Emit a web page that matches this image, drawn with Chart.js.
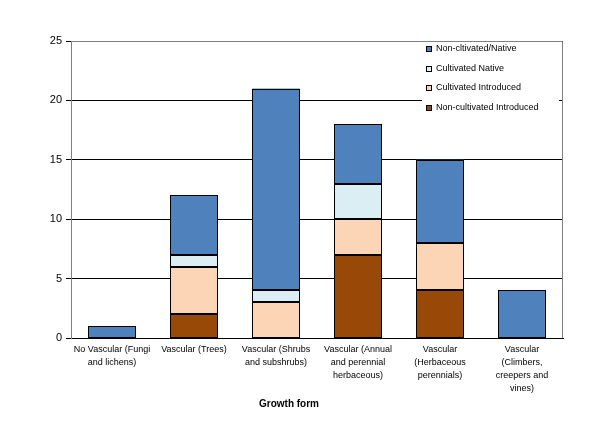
<!DOCTYPE html>
<html>
<head>
<meta charset="utf-8">
<script src="https://cdn.jsdelivr.net/npm/chart.js@4/dist/chart.umd.min.js"></script>
<style>
  html, body { margin: 0; padding: 0; background: #fff; }
  #wrap { width: 598px; height: 428px; }
</style>
</head>
<body>
<div id="wrap"><canvas id="chart" width="598" height="428"></canvas></div>
<script>
const categories = [
  ["No Vascular (Fungi", "and lichens)"],
  ["Vascular (Trees)"],
  ["Vascular (Shrubs", "and subshrubs)"],
  ["Vascular (Annual", "and perennial", "herbaceous)"],
  ["Vascular", "(Herbaceous", "perennials)"],
  ["Vascular", "(Climbers,", "creepers and", "vines)"],
];

const nonCultIntroduced = [0, 2, 0, 7, 4, 0];
const cultIntroduced = [0, 4, 3, 3, 4, 0];
const cultNative = [0, 1, 1, 3, 0, 0];
const nonCultNative = [1, 5, 17, 5, 7, 4];

const yTicks = [0, 5, 10, 15, 20, 25];
const xTitle = "Growth form";

const FONT = "'Liberation Sans', Arial, sans-serif";

// plot frame, crisp bar outlines, in-plot legend and axis title
const framePlugin = {
  id: "frame",
  beforeDatasetsDraw(chart) {
    const { ctx, chartArea: a } = chart;
    ctx.save();
    // legend box background hides the gridline behind it
    ctx.fillStyle = "#fff";
    ctx.fillRect(422, 38, a.right - 424, 78);
    ctx.restore();
  },
  afterDatasetsDraw(chart) {
    const { ctx, chartArea: a } = chart;
    ctx.save();

    // outline every non-empty segment
    ctx.strokeStyle = "#000";
    ctx.lineWidth = 1;
    chart.data.datasets.forEach((ds, di) => {
      chart.getDatasetMeta(di).data.forEach((bar, i) => {
        if (!ds.data[i]) return;
        const p = bar.getProps(["x", "y", "base", "width"], true);
        const x0 = Math.round(p.x - p.width / 2) + 0.5;
        const x1 = Math.round(p.x + p.width / 2) - 0.5;
        const y0 = Math.round(p.y) + 0.5;
        const y1 = Math.round(p.base) - 0.5;
        ctx.strokeRect(x0, y0, x1 - x0, y1 - y0);
      });
    });

    ctx.strokeStyle = "#808080";
    ctx.beginPath();
    ctx.moveTo(a.left + 0.5, a.bottom);
    ctx.lineTo(a.left + 0.5, a.top + 0.5);
    ctx.lineTo(a.right - 0.5, a.top + 0.5);
    ctx.lineTo(a.right - 0.5, a.bottom);
    ctx.stroke();
    // small stub of the 20 gridline at the right edge
    const y20 = Math.round(chart.scales.y.getPixelForValue(20)) + 0.5;
    ctx.strokeStyle = "#000";
    ctx.beginPath();
    ctx.moveTo(a.right - 4, y20);
    ctx.lineTo(a.right - 1, y20);
    ctx.stroke();

    // legend, top item is the top stack segment
    const items = chart.data.datasets.slice().reverse();
    ctx.font = "9px " + FONT;
    ctx.textBaseline = "middle";
    items.forEach((ds, i) => {
      const y = Math.round(49 + i * 19.5);
      ctx.fillStyle = ds.backgroundColor;
      ctx.fillRect(426, y - 3, 6, 6);
      ctx.strokeStyle = "#000";
      ctx.strokeRect(426.5, y - 2.5, 5, 5);
      ctx.fillStyle = "#000";
      ctx.fillText(ds.label, 436, y);
    });

    ctx.font = "bold 10px " + FONT;
    ctx.textAlign = "center";
    ctx.fillText(xTitle, 289, 404);
    ctx.restore();
  },
};

new Chart(document.getElementById("chart"), {
  type: "bar",
  data: {
    labels: categories,
    datasets: [
      { label: "Non-cultivated Introduced", data: nonCultIntroduced, backgroundColor: "#984807" },
      { label: "Cultivated Introduced", data: cultIntroduced, backgroundColor: "#FBD5B5" },
      { label: "Cultivated Native", data: cultNative, backgroundColor: "#DAEEF3" },
      { label: "Non-cltivated/Native", data: nonCultNative, backgroundColor: "#4F81BD" },
    ].map((ds) => ({
      ...ds,
      borderWidth: 0,
      categoryPercentage: 1,
      barPercentage: 0.58,
    })),
  },
  options: {
    responsive: false,
    animation: false,
    layout: { padding: { left: 0, right: 35, top: 41, bottom: 0 } },
    plugins: {
      legend: { display: false },
      tooltip: { enabled: false },
    },
    scales: {
      x: {
        stacked: true,
        grid: { display: false, drawTicks: false },
        border: { color: "#000", width: 1 },
        ticks: {
          color: "#000",
          font: { family: FONT, size: 9, lineHeight: 1.45 },
          padding: 5,
          maxRotation: 0,
          autoSkip: false,
        },
        afterFit(scale) { scale.height = 90; },
      },
      y: {
        stacked: true,
        min: 0,
        max: 25,
        afterBuildTicks(scale) { scale.ticks = yTicks.map((v) => ({ value: v })); },
        grid: { color: "#000", lineWidth: 1, drawTicks: true, tickLength: 5, tickColor: "#000" },
        border: { color: "#808080", width: 1 },
        ticks: {
          color: "#000",
          font: { family: FONT, size: 11 },
          padding: 4,
        },
        afterFit(scale) { scale.width = 71; },
      },
    },
  },
  plugins: [framePlugin],
});
</script>
</body>
</html>
